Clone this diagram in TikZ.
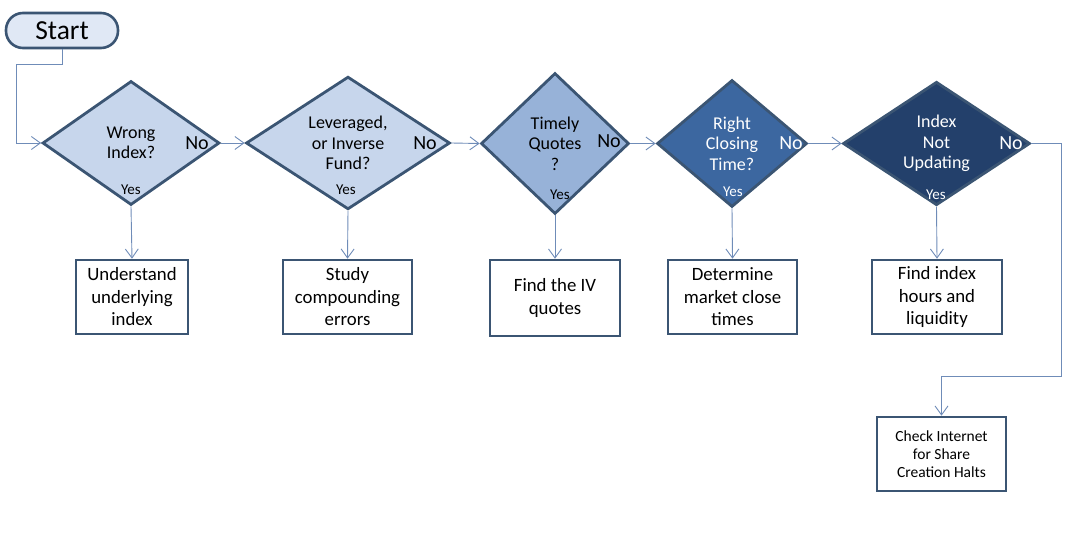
\documentclass[tikz,border=0pt]{standalone}
\usepackage{fontspec}
\setmainfont{Carlito}
\usetikzlibrary{shapes.geometric,arrows.meta}

\definecolor{edgeblue}{HTML}{3B5573}
\definecolor{linkblue}{HTML}{6F8CB8}
\definecolor{paleblue}{HTML}{C7D6EC}
\definecolor{midblue}{HTML}{97B2D8}
\definecolor{deepblue}{HTML}{3C67A0}
\definecolor{navyblue}{HTML}{23406B}

\tikzset{
  decision/.style={diamond, draw=edgeblue, line width=2.8pt, inner sep=0pt,
    align=center, font=\fontsize{18}{20.5}\selectfont},
  action/.style={rectangle, draw=edgeblue, line width=2.6pt, fill=white,
    align=center, inner sep=0pt, font=\fontsize{18.8}{22.5}\selectfont},
  flow/.style={draw=linkblue, line width=0.9pt,
    -{Straight Barb[length=9pt,width=13pt,line width=0.9pt]}},
  nolabel/.style={font=\fontsize{20}{22}\selectfont},
  yeslabel/.style={font=\fontsize{15}{17}\selectfont}
}

\begin{document}
\begin{tikzpicture}[x=1pt,y=-1pt]
\useasboundingbox (0,0) rectangle (1087,543);

% Start
\node[draw=edgeblue, line width=2.6pt, fill=paleblue!55, rounded corners=17pt,
  minimum width=112pt, minimum height=35pt, font=\fontsize{27.5}{30}\selectfont]
  (start) at (62,30.5) {Start};

% Decisions
\node[decision, fill=paleblue, minimum width=177pt, minimum height=124pt]
  (q1) at (131,143) {Wrong\\Index?};
\node[decision, fill=paleblue, minimum width=204pt, minimum height=124pt]
  (q2) at (348,143) {Leveraged,\\or Inverse\\Fund?};
\node[decision, fill=midblue, minimum width=148pt, minimum height=141pt]
  (q3) at (555,143.5) {Timely\\Quotes\\?};
\node[decision, fill=deepblue, text=white, minimum width=150pt, minimum height=127pt]
  (q4) at (732,143.5) {Right\\Closing\\Time?};
\node[decision, fill=navyblue, text=white, minimum width=187pt, minimum height=123pt]
  (q5) at (936.5,143.5) {Index\\Not\\Updating};

% No / Yes labels
\node[nolabel] (n1) at (197,143) {No};
\node[nolabel] (n2) at (425,143) {No};
\node[nolabel] (n3) at (609,141) {No};
\node[nolabel, text=white] (n4) at (791,143) {No};
\node[nolabel, text=white] (n5) at (1011,143) {No};
\node[yeslabel] (y1) at (131,190) {Yes};
\node[yeslabel] (y2) at (346,190) {Yes};
\node[yeslabel] (y3) at (560,195) {Yes};
\node[yeslabel, text=white] (y4) at (733,192) {Yes};
\node[yeslabel, text=white] (y5) at (936,195) {Yes};

% Actions
\node[action, minimum width=112pt, minimum height=74pt] (a1) at (132,297)
  {Understand\\underlying\\index};
\node[action, minimum width=129pt, minimum height=74pt] (a2) at (347.5,297)
  {Study\\compounding\\errors};
\node[action, minimum width=130pt, minimum height=76pt] (a3) at (555,298)
  {Find the IV\\quotes};
\node[action, minimum width=129pt, minimum height=74pt] (a4) at (732.5,297)
  {Determine\\market close\\times};
\node[action, minimum width=130pt, minimum height=74pt] (a5) at (937,297)
  {Find index\\hours and\\liquidity};
\node[action, minimum width=129pt, minimum height=74pt,
  font=\fontsize{15.5}{18}\selectfont] (halts) at (941.5,454)
  {Check Internet\\for Share\\Creation Halts};

% Connectors
\coordinate (bend) at (16,64);
\coordinate (turn) at (1061,376);
\draw[flow] (start.south) |- (bend) |- (q1.west);
\draw[flow] (q1.east) -- (q2.west);
\draw[flow] (q2.east) -- (q3.west);
\draw[flow] (q3.east) -- (q4.west);
\draw[flow] (q4.east) -- (q5.west);
\foreach \i in {1,...,5}
  \draw[flow] (q\i.south) -- (a\i.north);
\draw[flow] (q5.east) -| (turn) -| (halts.north);

\end{tikzpicture}
\end{document}
